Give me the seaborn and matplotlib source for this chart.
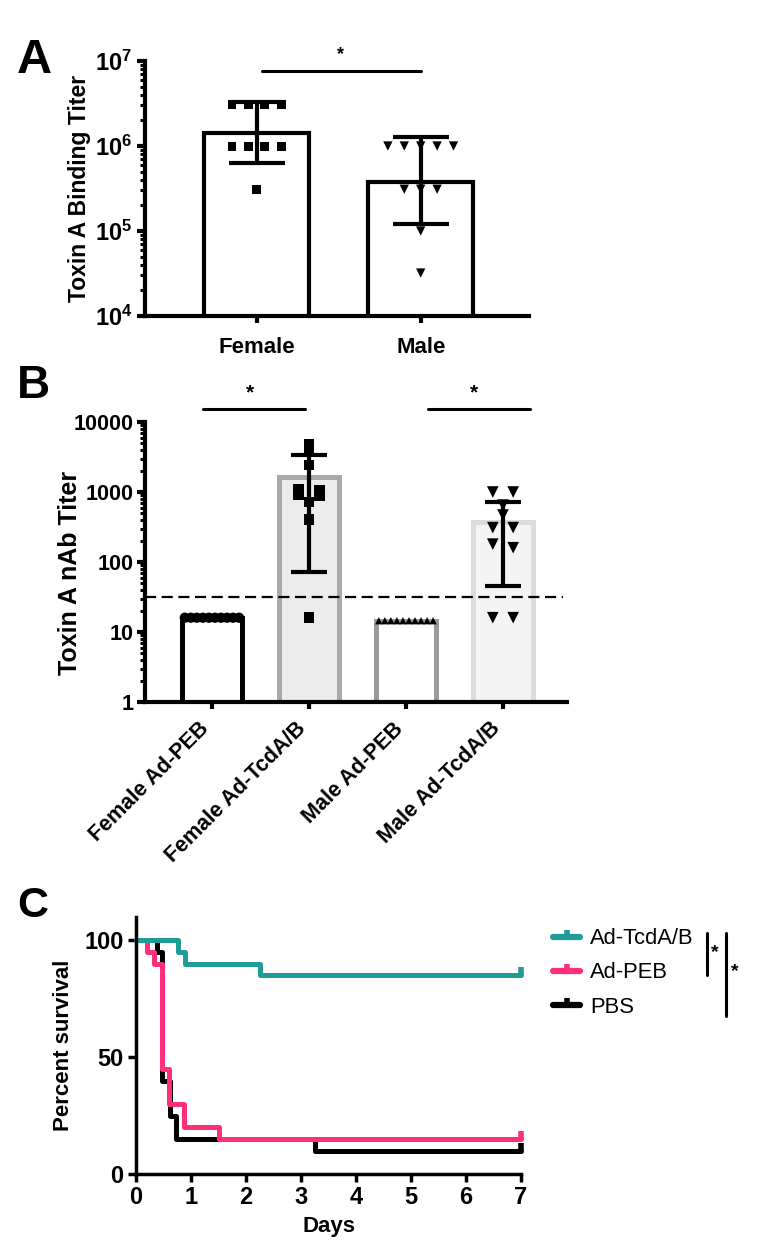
import numpy as np
import pandas as pd
import matplotlib
matplotlib.use("Agg")
import matplotlib.pyplot as plt
import matplotlib.transforms as mtransforms
import seaborn as sns
from matplotlib.lines import Line2D
from matplotlib.ticker import FuncFormatter, FixedLocator, LogLocator, NullFormatter

sns.set_theme(style="ticks")
plt.rcParams['font.family'] = ['Liberation Sans', 'DejaVu Sans']
plt.rcParams['font.weight'] = 'bold'
plt.rcParams['mathtext.fontset'] = 'custom'
plt.rcParams['mathtext.rm'] = 'Liberation Sans:bold'
plt.rcParams['mathtext.bf'] = 'Liberation Sans:bold'
plt.rcParams['mathtext.it'] = 'Liberation Sans:bold'
for key in ['text.color', 'axes.labelcolor', 'xtick.color', 'ytick.color', 'axes.edgecolor']:
    plt.rcParams[key] = 'black'

# ---------------- data ----------------
A_groups = ["Female", "Male"]
A_female = [3.1e6, 3.1e6, 3.1e6, 3.1e6, 9.8e5, 9.8e5, 9.8e5, 9.8e5, 3.1e5]
A_male = [1.0e6, 1.0e6, 1.0e6, 1.0e6, 1.0e6, 3.1e5, 3.1e5, 3.1e5, 1.0e5, 3.2e4]
A_mean = [1.42e6, 3.8e5]
A_err_low = [6.3e5, 1.2e5]
A_err_high = [3.3e6, 1.27e6]

B_groups = ["Female Ad-PEB", "Female Ad-TcdA/B", "Male Ad-PEB", "Male Ad-TcdA/B"]
B_female_peb = [16, 16, 16, 16, 16, 16, 16, 16, 16, 16]
B_female_tcd = [4860, 3900, 2440, 1100, 1070, 910, 900, 720, 400, 16]
B_male_peb = [14.5, 14.5, 14.5, 14.5, 14.5, 14.5, 14.5, 14.5, 14.5, 14.5]
B_male_tcd = [1000, 1000, 650, 470, 310, 310, 180, 160, 16, 16]
B_mean = [16, 1650, 14.5, 370]
B_err_low = [16, 72, 14.5, 46]
B_err_high = [16, 3350, 14.5, 720]
B_threshold = 31.6

C_groups = ["Ad-TcdA/B", "Ad-PEB", "PBS"]
C_days_tcd = [0, 0.76, 0.89, 2.25, 7]
C_surv_tcd = [100, 95, 90, 85, 85]
C_days_peb = [0, 0.2, 0.33, 0.47, 0.6, 0.87, 1.5, 7]
C_surv_peb = [100, 95, 90, 45, 30, 20, 15, 15]
C_days_pbs = [0, 0.38, 0.48, 0.61, 0.73, 3.25, 7]
C_surv_pbs = [100, 95, 40, 25, 15, 10, 10]

# ---------------- helpers ----------------
def spread(values, step, max_width, tol=0.06):
    v = np.asarray(values, float)
    lv = np.log10(v)
    order = np.argsort(-lv, kind="stable")
    offs = np.zeros(len(v))
    i = 0
    while i < len(order):
        j = i
        while j + 1 < len(order) and lv[order[i]] - lv[order[j + 1]] < tol:
            j += 1
        idx = order[i:j + 1]
        n = len(idx)
        s = step if n == 1 else min(step, max_width / (n - 1))
        offs[idx] = (np.arange(n) - (n - 1) / 2) * s
        i = j + 1
    return offs

def sci_fmt(v, pos):
    return r'$\mathbf{10^{%d}}$' % int(round(np.log10(v)))

W, H = 757, 1258
fig = plt.figure(figsize=(W / 100, H / 100), dpi=100)

def box(l, r, t, b):
    return [l / W, 1 - b / H, (r - l) / W, (b - t) / H]

# ---------------- Panel A ----------------
axA = fig.add_axes(box(145, 529, 61, 316))
sns.barplot(x=A_groups, y=A_mean, ax=axA, color="white", saturation=1,
            edgecolor="black", linewidth=3, width=0.64, errorbar=None)
axA.set_yscale("log")
axA.errorbar(x=np.arange(2), y=A_mean,
             yerr=[np.array(A_mean) - np.array(A_err_low), np.array(A_err_high) - np.array(A_mean)],
             fmt="none", ecolor="black", elinewidth=3, capsize=20, capthick=3, zorder=4)
for k, (vals, mk, sz) in enumerate([(A_female, "s", 40), (A_male, "v", 45)]):
    xs = k + spread(vals, 0.1, 0.42)
    sns.scatterplot(x=xs, y=vals, ax=axA, marker=mk, s=sz, color="black",
                    edgecolor="none", linewidth=0, zorder=5, legend=False)
axA.set_xlim(-0.68, 1.66)
axA.set_ylim(1e4, 1e7)
axA.yaxis.set_major_locator(FixedLocator([1e4, 1e5, 1e6, 1e7]))
axA.yaxis.set_major_formatter(FuncFormatter(sci_fmt))
axA.yaxis.set_minor_locator(LogLocator(base=10, subs=np.arange(2, 10)))
axA.yaxis.set_minor_formatter(NullFormatter())
axA.tick_params(axis="y", which="major", length=6, width=3, labelsize=17, pad=3)
axA.tick_params(axis="y", which="minor", length=3.5, width=2.2)
axA.tick_params(axis="x", length=5, width=3, labelsize=16, pad=10)
for s in ["left", "bottom"]:
    axA.spines[s].set_linewidth(3)
sns.despine(ax=axA)
axA.set_ylabel("Toxin A Binding Titer", fontsize=16.5, fontweight="bold")
axA.yaxis.set_label_coords(-0.14, 0.5)
axA.set_xlabel("")
axA.plot([0.03, 1.0], [7.6e6, 7.6e6], color="black", lw=2.2, clip_on=False)
axA.text(0.51, 1.2e7, "*", ha="center", va="center", fontsize=13)

# ---------------- Panel B ----------------
axB = fig.add_axes(box(145, 567, 422, 702))
B_face = ["white", "#ececec", "white", "#f4f4f4"]
B_edge = ["black", "#a9a9a9", "#9a9a9a", "#dcdcdc"]
sns.barplot(x=B_groups, y=B_mean, hue=B_groups, palette=B_face, ax=axB, saturation=1,
            linewidth=3.6, width=0.62, errorbar=None, legend=False)
for patch, ec in zip(axB.patches, B_edge):
    patch.set_edgecolor(ec)
axB.set_yscale("log")
err_mask = [1, 3]
axB.errorbar(x=err_mask, y=[B_mean[i] for i in err_mask],
             yerr=[[B_mean[i] - B_err_low[i] for i in err_mask],
                   [B_err_high[i] - B_mean[i] for i in err_mask]],
             fmt="none", ecolor="black", elinewidth=3, capsize=13, capthick=3, zorder=4)
B_sets = [(B_female_peb, "o", 55), (B_female_tcd, "s", 60), (B_male_peb, "^", 28), (B_male_tcd, "v", 70)]
for k, (vals, mk, sz) in enumerate(B_sets):
    xs = k + spread(vals, 0.21, 0.56)
    sns.scatterplot(x=xs, y=vals, ax=axB, marker=mk, s=sz, color="black",
                    edgecolor="none", linewidth=0, zorder=5, legend=False)
axB.axhline(B_threshold, xmin=0, xmax=0.99, color="black", lw=1.6,
            linestyle=(0, (5, 2.5)), zorder=3)
axB.set_xlim(-0.69, 3.66)
axB.set_ylim(1, 1e4)
axB.yaxis.set_major_locator(FixedLocator([1, 10, 100, 1000, 10000]))
axB.yaxis.set_major_formatter(FuncFormatter(lambda v, p: "%d" % v))
axB.yaxis.set_minor_locator(LogLocator(base=10, subs=np.arange(2, 10)))
axB.yaxis.set_minor_formatter(NullFormatter())
axB.tick_params(axis="y", which="major", length=6, width=3, labelsize=15.5, pad=2)
axB.tick_params(axis="y", which="minor", length=3.5, width=2.2)
axB.tick_params(axis="x", length=5, width=3, labelsize=15.5, pad=12)
shift = mtransforms.ScaledTranslation(-6 / 100, 0, fig.dpi_scale_trans)
for lab in axB.get_xticklabels():
    lab.set_rotation(45)
    lab.set_ha("right")
    lab.set_va("center")
    lab.set_rotation_mode("anchor")
    lab.set_transform(lab.get_transform() + shift)
for s in ["left", "bottom"]:
    axB.spines[s].set_linewidth(3)
sns.despine(ax=axB)
axB.set_ylabel("Toxin A nAb Titer", fontsize=18, fontweight="bold")
axB.yaxis.set_label_coords(-0.15, 0.46)
axB.set_xlabel("")
for (x0, x1, xs) in [(-0.09, 0.96, 0.39), (2.23, 3.28, 2.70)]:
    axB.plot([x0, x1], [15300, 15300], color="black", lw=2.2, clip_on=False)
    axB.text(xs, 26000, "*", ha="center", va="center", fontsize=15)

# ---------------- Panel C ----------------
axC = fig.add_axes(box(136, 521, 917, 1174))
C_colors = {"Ad-TcdA/B": "#1f9c97", "Ad-PEB": "#ff2f7c", "PBS": "black"}
C_df = pd.concat([
    pd.DataFrame({"Days": C_days_pbs, "Survival": C_surv_pbs, "Group": "PBS"}),
    pd.DataFrame({"Days": C_days_peb, "Survival": C_surv_peb, "Group": "Ad-PEB"}),
    pd.DataFrame({"Days": C_days_tcd, "Survival": C_surv_tcd, "Group": "Ad-TcdA/B"}),
])
for g in ["PBS", "Ad-PEB", "Ad-TcdA/B"]:
    sub = C_df[C_df["Group"] == g]
    sns.lineplot(data=sub, x="Days", y="Survival", ax=axC, color=C_colors[g],
                 drawstyle="steps-post", lw=3.6, legend=False, clip_on=False)
    axC.plot(sub["Days"].iloc[-1:], sub["Survival"].iloc[-1:], marker=2, ms=6, mew=4,
             color=C_colors[g], clip_on=False, ls="none")
axC.set_xlim(0, 7)
axC.set_ylim(0, 110)
axC.set_xticks(range(8))
axC.set_yticks([0, 50, 100])
axC.tick_params(axis="both", length=6, width=2.5, labelsize=17, pad=3)
for s in ["left", "bottom"]:
    axC.spines[s].set_linewidth(2.5)
sns.despine(ax=axC)
axC.set_xlabel("Days", fontsize=16, fontweight="bold", labelpad=5)
axC.set_ylabel("Percent survival", fontsize=16, fontweight="bold")
axC.yaxis.set_label_coords(-0.16, 0.5)

handles = [Line2D([0], [0], color=C_colors[g], lw=4.5, marker=2, ms=5, mew=4,
                  markevery=[0]) for g in C_groups]
leg = fig.legend(handles, C_groups, loc="center left", bbox_to_anchor=(553 / W, 1 - 973 / H),
                 frameon=False, prop={"family": "Liberation Sans", "weight": "normal", "size": 15.8},
                 handlelength=1.25, handletextpad=0.45, labelspacing=0.6, borderpad=0, borderaxespad=0)

# significance brackets for survival
for (x, y0, y1, xs, ys) in [(707, 933, 975, 715, 953), (726, 933, 1016, 735, 972)]:
    fig.add_artist(Line2D([x / W, x / W], [1 - y0 / H, 1 - y1 / H], color="black", lw=2.2))
    fig.text(xs / W, 1 - ys / H, "*", ha="center", va="center", fontsize=14)

# panel letters
fig.text(17 / W, 1 - 73 / H, "A", fontsize=35, fontweight="bold", va="baseline", ha="left")
fig.text(17 / W, 1 - 398 / H, "B", fontsize=33, fontweight="bold", va="baseline", ha="left")
fig.text(17 / W, 1 - 917 / H, "C", fontsize=31, fontweight="bold", va="baseline", ha="left")

fig.savefig("out.png", dpi=100)
